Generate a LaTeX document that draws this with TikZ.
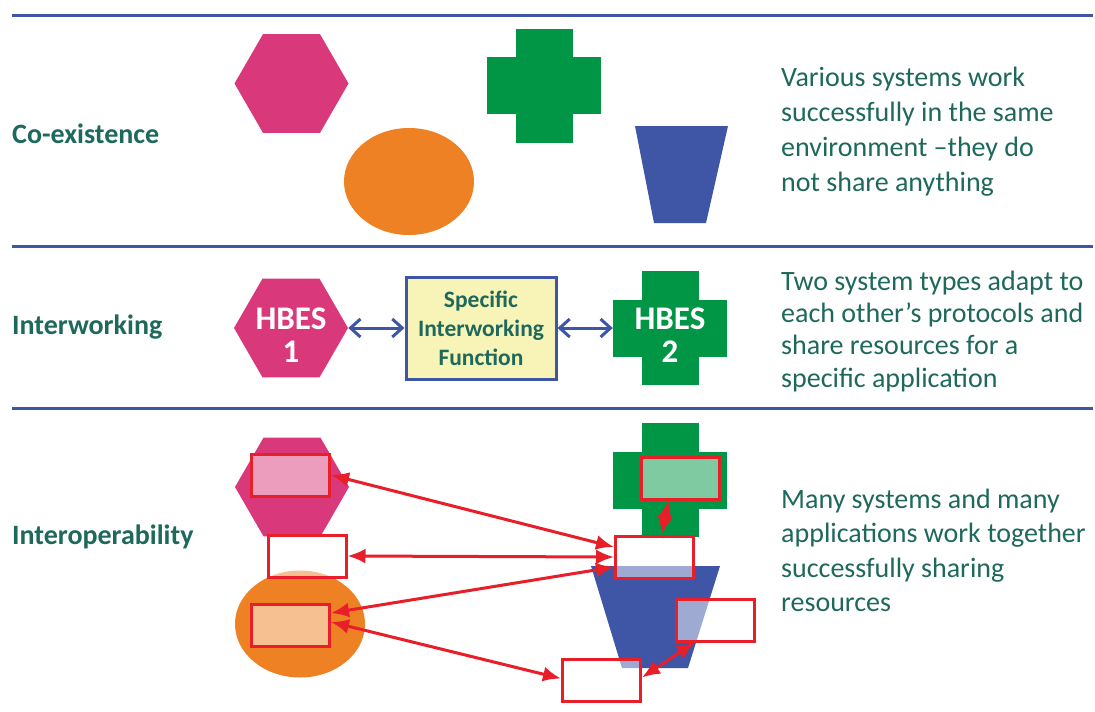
\documentclass[tikz,border=0pt]{standalone}
\usepackage{fontspec}
\setmainfont{Carlito}
\usetikzlibrary{shapes.geometric,arrows.meta,positioning}

\definecolor{hexpink}{RGB}{217,57,122}
\definecolor{ovorange}{RGB}{238,129,35}
\definecolor{crgreen}{RGB}{0,150,70}
\definecolor{trblue}{RGB}{62,86,165}
\definecolor{txteal}{RGB}{30,104,92}
\definecolor{ifyellow}{RGB}{248,244,184}
\definecolor{lnred}{RGB}{232,30,40}

\tikzset{
  hexa/.style={regular polygon, regular polygon sides=6, fill=hexpink, minimum size=114pt, inner sep=0pt},
  oval/.style={ellipse, fill=ovorange, minimum width=130pt, minimum height=107pt, inner sep=0pt},
  vbar/.style={rectangle, fill=crgreen, minimum width=57pt, minimum height=114pt, inner sep=0pt},
  hbar/.style={rectangle, fill=crgreen, minimum width=114pt, minimum height=57pt, inner sep=0pt},
  hbes/.style={text=white, align=center, inner sep=0pt, yshift=-7pt, font=\fontsize{33}{33}\selectfont\bfseries},
  ifbox/.style={rectangle, draw=trblue, line width=3pt, fill=ifyellow, minimum width=150pt, minimum height=102pt,
    text=txteal, align=center, font=\fontsize{23.5}{29}\selectfont\bfseries},
  app/.style={rectangle, draw=lnred, line width=3pt, fill=white, fill opacity=0.5, minimum width=78pt, minimum height=42pt, inner sep=0pt},
  rowname/.style={anchor=base west, inner sep=0pt, text=txteal, font=\fontsize{28}{32}\selectfont\bfseries},
  blurb/.style={anchor=base west, inner sep=0pt, align=left, text=txteal, font=\fontsize{28}{35}\selectfont},
  sepline/.style={draw=trblue, line width=3pt},
  iwlink/.style={draw=trblue, line width=3pt, >={Straight Barb[length=10pt,width=18pt]}, <->},
  link/.style={draw=lnred, line width=3pt, >={Latex[length=18pt,width=15pt]}, <->}
}

\begin{document}
\begin{tikzpicture}[x=1pt, y=-1pt]
\useasboundingbox (0,0) rectangle (1095,712);
\fill[white] (0,0) rectangle (1095,712);

% separators
\draw[sepline] (12,15) -- (1093,15);
\draw[sepline] (12,246) -- (1093,246);
\draw[sepline] (12,408) -- (1093,408);

% row names
\node[rowname] (nameA) at (12,143) {Co-existence};
\node[rowname] (nameB) at (12,334) {Interworking};
\node[rowname] (nameC) at (12,544) {Interoperability};

% co-existence
\node[hexa] (hexA) at (291.5,83.5) {};
\node[oval] (ovA) at (409,181.5) {};
\node[vbar] (crA) at (544,85.5) {};
\node[hbar] (crAh) at (crA) {};
\fill[trblue] (635,126) -- (728,126) -- (706,223) -- (654,223) -- cycle;
\node[blurb] (txtA) at (781,191) {Various systems work\\successfully in the same\\environment –they do\\not share anything};

% interworking
\node[hexa, label={[hbes]center:HBES\\1}] (hbesA) at (291,328) {};
\node[ifbox] (iwf) at (481,328) {Specific\\Interworking\\Function};
\node[vbar] (hbesBv) at (670,328) {};
\node[hbar, label={[hbes]center:HBES\\2}] (hbesB) at (670,328) {};
\draw[iwlink] (hbesA.east) -- (iwf.west);
\draw[iwlink] (iwf.east) -- (hbesB.west);
\node[blurb, font=\fontsize{28}{32.3}\selectfont] (txtB) at (781,387) {Two system types adapt to\\each other’s protocols and\\share resources for a\\specific application};

% interoperability
\node[hexa] (hexC) at (292,487) {};
\node[oval] (ovC) at (300,624) {};
\node[vbar] (crC) at (670,480) {};
\node[hbar] (crCh) at (crC) {};
\fill[trblue] (591,566) -- (720,566) -- (688,668) -- (622,668) -- cycle;

\node[app] (apppink) at (290.5,475) {};
\node[app] (appwhite) at (307,556) {};
\node[app] (apporange) at (290.5,625) {};
\node[app] (appgreen) at (680.5,478) {};
\node[app] (apphub) at (654.5,557) {};
\node[app] (appright) at (715.5,620) {};
\node[app] (appbottom) at (601.5,680.5) {};

\draw[link] (apppink.east) -- ([yshift=10pt]apphub.west);
\draw[link] (appwhite.east) -- (apphub.west);
\draw[link] ([yshift=-10pt]apphub.west) -- ([yshift=12pt]apporange.east);
\draw[link] ([yshift=3pt]apporange.east) -- ([yshift=2pt]appbottom.west);
\draw[link] ([xshift=-12pt]appgreen.south) -- ([xshift=7pt]apphub.north);
\draw[link] ([xshift=-21pt]appright.south) -- ([yshift=3pt]appbottom.east);

\node[blurb, font=\fontsize{28}{34.5}\selectfont] (txtC) at (781,611.5) {Many systems and many\\applications work together\\successfully sharing\\resources};
\end{tikzpicture}
\end{document}
